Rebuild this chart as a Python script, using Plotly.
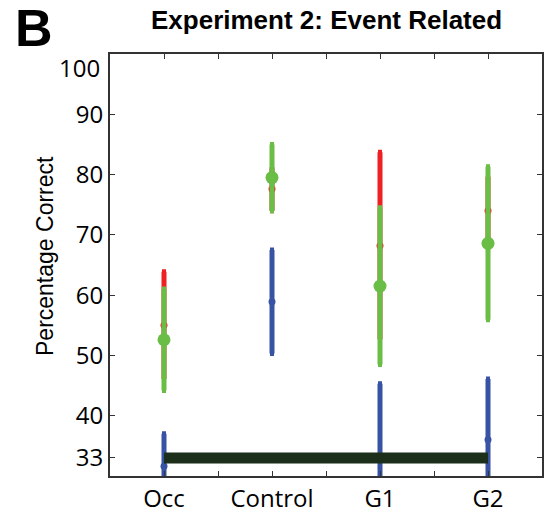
import plotly.graph_objects as go

categories = ["Occ", "Control", "G1", "G2"]
cat_pos = [1, 3, 5, 7]

red_mean = [55.0, 77.6, 68.2, 74.0]
red_err = [8.9, 3.6, 15.5, 5.7]

green_mean = [52.6, 79.5, 61.5, 68.6]
green_err = [8.4, 5.5, 13.0, 12.7]

blue_mean = [31.6, 58.9, 32.8, 36.0]
blue_err = [5.4, 8.6, 12.5, 10.1]

chance_level = 33
chance_span = [1, 7]

y_ticks = [33, 40, 50, 60, 70, 80, 90]

RED = "#ee2024"
GREEN = "#6abd45"
BLUE = "#3953a4"
DARK = "#1b2f1b"

NARROW = "Liberation Sans Narrow, Liberation Sans, Arial"
TICKFONT = "Open Sans, sans-serif"

fig = go.Figure()


def add_series(mean, err, color, size):
    fig.add_trace(go.Scatter(
        x=cat_pos, y=mean, mode="markers",
        marker=dict(color=color, size=size),
        error_y=dict(type="data", array=err, visible=True, color=color,
                     thickness=5, width=2),
        showlegend=False,
    ))


add_series(blue_mean, blue_err, BLUE, 7)
fig.add_trace(go.Scatter(
    x=chance_span, y=[chance_level, chance_level], mode="lines",
    line=dict(color=DARK, width=11), showlegend=False,
))
add_series(red_mean, red_err, RED, 7)
add_series(green_mean, green_err, GREEN, 13)

fig.update_layout(
    width=544, height=515,
    margin=dict(l=110, r=2, t=54, b=39, autoexpand=False),
    paper_bgcolor="white", plot_bgcolor="white",
    showlegend=False,
    font=dict(family=TICKFONT, color="black"),
)
fig.add_annotation(text="<b>Experiment 2: Event Related</b>",
                   xref="paper", yref="paper", x=0.5, y=1.0, yshift=34,
                   showarrow=False, xanchor="center", yanchor="middle",
                   font=dict(family=NARROW, size=26, color="black"))
fig.add_annotation(text="<b>B</b>", xref="paper", yref="paper",
                   x=0, y=1.0, xshift=-110 + 34, yshift=26, showarrow=False,
                   xanchor="center", yanchor="middle",
                   font=dict(family="Liberation Sans, Arial", size=52, color="black"))
fig.add_annotation(text="Percentage Correct", xref="paper", yref="paper",
                   x=0, y=0.5, xshift=-65, yshift=9, showarrow=False, textangle=-90,
                   xanchor="center", yanchor="middle",
                   font=dict(family=NARROW, size=23, color="black"))
fig.add_annotation(text="100", xref="paper", yref="y", x=0, y=97.7,
                   xshift=-8, xanchor="right", yanchor="middle", showarrow=False,
                   font=dict(family=TICKFONT, size=24, color="black"))

axis_common = dict(
    ticks="inside", ticklen=5, tickwidth=1.2, tickcolor="#333",
    showline=True, linecolor="#333", linewidth=2, mirror="ticks",
    showgrid=False, zeroline=False, automargin=False,
    tickfont=dict(family=TICKFONT, size=24, color="black"),
)
fig.update_xaxes(
    range=[0, 8], tickvals=list(range(1, 8)),
    ticktext=["Occ", "", "Control", "", "G1", "", "G2"],
    **axis_common,
)
fig.update_yaxes(
    range=[30, 100], tickvals=y_ticks + [100],
    ticktext=[str(v) for v in y_ticks] + [""],
    **axis_common,
)

fig.write_html(
    "out.html",
    config={"displayModeBar": False},
    post_script="document.body.style.margin='0';document.body.style.overflow='hidden';",
)
